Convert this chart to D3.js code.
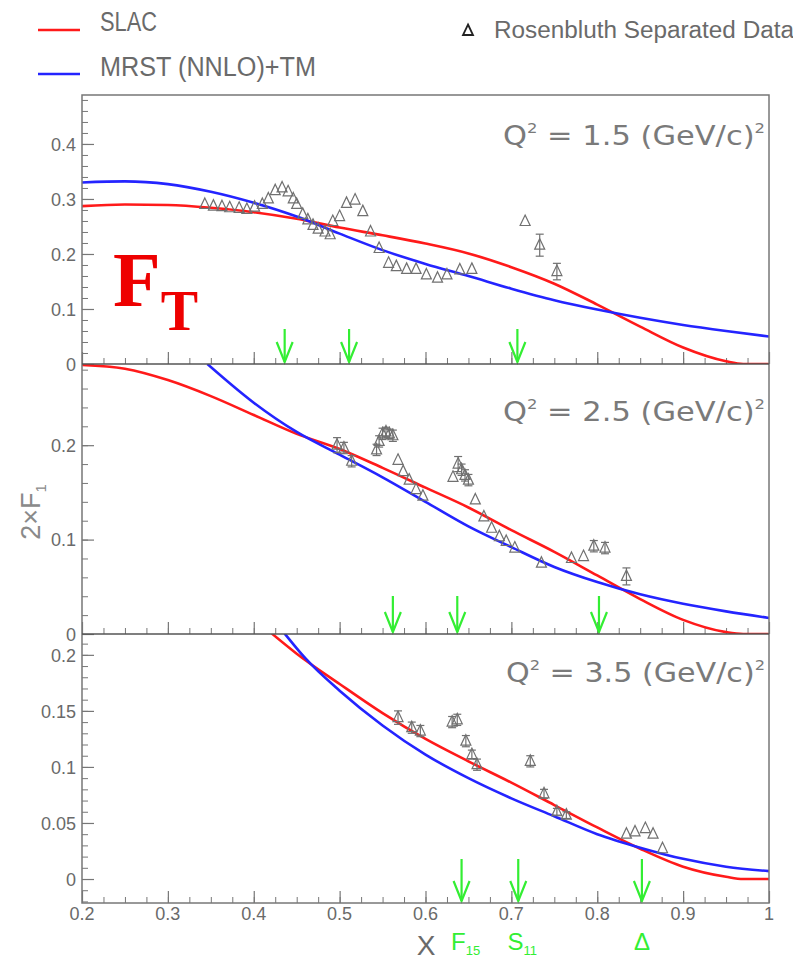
<!DOCTYPE html>
<html><head><meta charset="utf-8">
<script src="https://cdn.jsdelivr.net/npm/d3@7"></script>
<style>body{margin:0;background:#fff}svg{display:block}</style>
</head><body>
<svg id="chart" width="793" height="960"></svg>
<script>
// ---------- data ----------
const q2Values = ["1.5", "2.5", "3.5"];
const xTickValues = [0.2, 0.3, 0.4, 0.5, 0.6, 0.7, 0.8, 0.9, 1];
const xTickLabels = ["0.2", "0.3", "0.4", "0.5", "0.6", "0.7", "0.8", "0.9", "1"];

const yTicks1 = [0, 0.1, 0.2, 0.3, 0.4];
const yTicks2 = [0, 0.1, 0.2];
const yTicks3 = [0, 0.05, 0.1, 0.15, 0.2];

// SLAC fit
const slac1X = [0.20, 0.25, 0.30, 0.35, 0.40, 0.45, 0.50, 0.55, 0.60, 0.65, 0.70, 0.75, 0.80, 0.85, 0.90, 0.95, 0.97, 1.00];
const slac1Y = [0.287, 0.290, 0.289, 0.284, 0.276, 0.264, 0.248, 0.234, 0.219, 0.201, 0.176, 0.146, 0.108, 0.068, 0.030, 0.005, 0.0, 0.0];
const slac2X = [0.20, 0.25, 0.30, 0.35, 0.40, 0.45, 0.50, 0.55, 0.60, 0.65, 0.70, 0.75, 0.80, 0.85, 0.90, 0.95, 0.97, 1.00];
const slac2Y = [0.285, 0.281, 0.269, 0.252, 0.232, 0.212, 0.196, 0.176, 0.155, 0.134, 0.110, 0.087, 0.062, 0.037, 0.015, 0.002, 0.0, 0.0];
const slac3X = [0.421, 0.45, 0.50, 0.55, 0.60, 0.65, 0.70, 0.75, 0.80, 0.85, 0.90, 0.95, 0.97, 1.00];
const slac3Y = [0.219, 0.201, 0.174, 0.148, 0.125, 0.105, 0.086, 0.066, 0.046, 0.027, 0.011, 0.002, 0.0, 0.0];

// MRST (NNLO) + target mass corrections
const mrst1X = [0.20, 0.25, 0.30, 0.35, 0.40, 0.45, 0.50, 0.55, 0.60, 0.65, 0.70, 0.75, 0.80, 0.85, 0.90, 0.95, 1.00];
const mrst1Y = [0.330, 0.332, 0.327, 0.313, 0.293, 0.268, 0.237, 0.207, 0.182, 0.160, 0.137, 0.116, 0.099, 0.084, 0.071, 0.060, 0.050];
const mrst2X = [0.346, 0.40, 0.45, 0.50, 0.55, 0.60, 0.65, 0.70, 0.75, 0.80, 0.85, 0.90, 0.95, 1.00];
const mrst2Y = [0.286, 0.245, 0.214, 0.190, 0.166, 0.140, 0.114, 0.092, 0.071, 0.055, 0.042, 0.032, 0.024, 0.017];
const mrst3X = [0.436, 0.46, 0.50, 0.55, 0.60, 0.65, 0.70, 0.75, 0.80, 0.85, 0.90, 0.95, 1.00];
const mrst3Y = [0.219, 0.197, 0.168, 0.137, 0.111, 0.090, 0.072, 0.056, 0.040, 0.028, 0.018, 0.011, 0.007];

// Rosenbluth separated data: x, 2xF1, error
const data1X = [0.343, 0.353, 0.363, 0.372, 0.383, 0.392, 0.401, 0.410, 0.417, 0.425, 0.433, 0.440, 0.446, 0.450, 0.457, 0.463, 0.469, 0.475, 0.483, 0.489, 0.492, 0.500, 0.508, 0.518, 0.527, 0.536, 0.546, 0.557, 0.566, 0.578, 0.589, 0.601, 0.614, 0.625, 0.640, 0.654, 0.716, 0.733, 0.753];
const data1Y = [0.290, 0.287, 0.286, 0.284, 0.283, 0.281, 0.285, 0.290, 0.300, 0.315, 0.320, 0.313, 0.300, 0.290, 0.272, 0.262, 0.252, 0.245, 0.240, 0.235, 0.259, 0.268, 0.292, 0.298, 0.277, 0.240, 0.210, 0.183, 0.177, 0.172, 0.172, 0.162, 0.156, 0.162, 0.171, 0.172, 0.259, 0.216, 0.168];
const data1E = [0, 0, 0, 0, 0, 0, 0, 0, 0, 0, 0, 0, 0, 0, 0, 0, 0, 0, 0, 0, 0, 0, 0, 0, 0, 0, 0, 0, 0, 0, 0, 0, 0, 0, 0, 0, 0, 0.020, 0.015];

const data2X = [0.497, 0.505, 0.514, 0.543, 0.546, 0.550, 0.554, 0.558, 0.562, 0.568, 0.574, 0.581, 0.589, 0.597, 0.632, 0.638, 0.642, 0.646, 0.650, 0.658, 0.668, 0.677, 0.686, 0.694, 0.704, 0.735, 0.770, 0.784, 0.796, 0.809, 0.834];
const data2Y = [0.200, 0.197, 0.183, 0.195, 0.204, 0.212, 0.214, 0.212, 0.210, 0.184, 0.172, 0.163, 0.153, 0.146, 0.166, 0.180, 0.174, 0.168, 0.163, 0.142, 0.124, 0.112, 0.103, 0.098, 0.091, 0.075, 0.080, 0.082, 0.093, 0.091, 0.061];
const data2E = [0.008, 0.006, 0.006, 0.006, 0.006, 0.006, 0.005, 0.005, 0.006, 0, 0, 0, 0, 0, 0, 0.008, 0.006, 0.006, 0.006, 0, 0, 0, 0, 0, 0, 0, 0, 0, 0.006, 0.006, 0.009];

const data3X = [0.568, 0.584, 0.594, 0.631, 0.637, 0.647, 0.654, 0.660, 0.722, 0.738, 0.753, 0.764, 0.834, 0.844, 0.856, 0.865, 0.876];
const data3Y = [0.144, 0.135, 0.132, 0.140, 0.142, 0.123, 0.111, 0.102, 0.105, 0.076, 0.060, 0.057, 0.040, 0.042, 0.045, 0.040, 0.027];
const data3E = [0.006, 0.005, 0.005, 0.005, 0.005, 0.005, 0.004, 0.005, 0.005, 0.004, 0.003, 0.003, 0, 0, 0, 0, 0];

// resonance positions (F15, S11, Delta) at each Q^2
const res1X = [0.436, 0.511, 0.707];
const res2X = [0.562, 0.637, 0.802];
const res3X = [0.642, 0.708, 0.852];

// ---------- layout ----------
const svg = d3.select("#chart");
const X0 = 82, X1 = 769;
const RED = "#ff1a1a", BLUE = "#2424ff", GREEN = "#33ee33", GRAY = "#6a6a6a", AXIS = "#777";
const FONT = "'Liberation Sans', Arial, sans-serif";
const WIDE = "'DejaVu Sans', 'Liberation Sans', sans-serif";

const x = d3.scaleLinear().domain([0.2, 1]).range([X0, X1]);

const panels = [
  {top: 95, bottom: 364, domain: [0, 0.489], major: yTicks1, minorStep: 0.02, minorMin: 0, minorMax: 0.48,
   slacX: slac1X, slacY: slac1Y, mrstX: mrst1X, mrstY: mrst1Y, dX: data1X, dY: data1Y, dE: data1E, res: res1X, q2: q2Values[0], arrow: 33, titleY: 145, titleX: 503},
  {top: 364, bottom: 634, domain: [0, 0.286], major: yTicks2, minorStep: 0.02, minorMin: 0, minorMax: 0.28,
   slacX: slac2X, slacY: slac2Y, mrstX: mrst2X, mrstY: mrst2Y, dX: data2X, dY: data2Y, dE: data2E, res: res2X, q2: q2Values[1], arrow: 36, titleY: 421, titleX: 503},
  {top: 634, bottom: 903, domain: [-0.0214, 0.2186], major: yTicks3, minorStep: 0.01, minorMin: -0.02, minorMax: 0.21,
   slacX: slac3X, slacY: slac3Y, mrstX: mrst3X, mrstY: mrst3Y, dX: data3X, dY: data3Y, dE: data3E, res: res3X, q2: q2Values[2], arrow: 42, titleY: 682, titleX: 506}
];

panels.forEach((p, i) => {
  const y = d3.scaleLinear().domain(p.domain).range([p.bottom, p.top]);
  const g = svg.append("g");

  // clip region for the curves
  const cid = "clip" + i;
  svg.append("clipPath").attr("id", cid).append("rect")
    .attr("x", X0).attr("y", p.top).attr("width", X1 - X0).attr("height", p.bottom - p.top);

  // y axis ticks (pointing inward)
  const minor = d3.range(Math.round(p.minorMin / p.minorStep), Math.round(p.minorMax / p.minorStep) + 1).map(k => +(k * p.minorStep).toFixed(4));
  const yMinorG = g.append("g").attr("transform", `translate(${X0},0)`)
    .call(d3.axisRight(y).tickValues(minor).tickSize(6).tickFormat(""));
  yMinorG.select(".domain").remove();
  yMinorG.selectAll("line").attr("stroke", AXIS).attr("stroke-width", 1);

  const yMajorG = g.append("g").attr("transform", `translate(${X0},0)`)
    .call(d3.axisRight(y).tickValues(p.major).tickSize(12).tickFormat(d3.format("~g")));
  yMajorG.select(".domain").remove();
  yMajorG.selectAll("line").attr("stroke", AXIS).attr("stroke-width", 1.2);
  yMajorG.selectAll("text").attr("x", -6).attr("text-anchor", "end")
    .attr("fill", GRAY).attr("font-family", FONT).attr("font-size", 18).attr("dy", "0.35em");

  // x ticks along the panel bottom (pointing up)
  const xMinor = d3.range(8, 41).map(k => k * 0.025).filter(v => v > 0.2 && v < 1);
  const xMinorG = g.append("g").attr("transform", `translate(0,${p.bottom})`)
    .call(d3.axisTop(x).tickValues(xMinor).tickSize(6).tickFormat(""));
  xMinorG.select(".domain").remove();
  xMinorG.selectAll("line").attr("stroke", AXIS).attr("stroke-width", 1);
  const xMajorG = g.append("g").attr("transform", `translate(0,${p.bottom})`)
    .call(d3.axisTop(x).tickValues(xTickValues).tickSize(12).tickFormat(""));
  xMajorG.select(".domain").remove();
  xMajorG.selectAll("line").attr("stroke", AXIS).attr("stroke-width", 1.2);

  // curves
  const line = d3.line().x(d => x(d[0])).y(d => y(d[1])).curve(d3.curveMonotoneX);
  const cg = g.append("g").attr("clip-path", `url(#${cid})`);
  cg.append("path").datum(p.slacX.map((v, k) => [v, p.slacY[k]]))
    .attr("d", line).attr("fill", "none").attr("stroke", RED).attr("stroke-width", 2.6);
  cg.append("path").datum(p.mrstX.map((v, k) => [v, p.mrstY[k]]))
    .attr("d", line).attr("fill", "none").attr("stroke", BLUE).attr("stroke-width", 2.6);

  // data points with error bars
  const pts = p.dX.map((v, k) => ({x: v, y: p.dY[k], e: p.dE[k]}));
  const dg = g.append("g").attr("stroke", "#707070").attr("fill", "none").attr("stroke-width", 1.2);
  pts.filter(d => d.e > 0).forEach(d => {
    const cx = x(d.x), y0 = y(d.y - d.e), y1 = y(d.y + d.e);
    dg.append("line").attr("x1", cx).attr("x2", cx).attr("y1", y0).attr("y2", y1);
    dg.append("line").attr("x1", cx - 4).attr("x2", cx + 4).attr("y1", y0).attr("y2", y0);
    dg.append("line").attr("x1", cx - 4).attr("x2", cx + 4).attr("y1", y1).attr("y2", y1);
  });
  dg.selectAll("path.tri").data(pts).join("path").attr("class", "tri")
    .attr("d", "M0,-6.5L5,4L-5,4Z")
    .attr("transform", d => `translate(${x(d.x)},${y(d.y)})`);

  // resonance arrows
  const ag = g.append("g").attr("stroke", GREEN).attr("stroke-width", 2.2).attr("fill", "none");
  p.res.forEach(r => {
    const ax = x(r), yb = p.bottom - 2, yt = yb - p.arrow;
    ag.append("line").attr("x1", ax).attr("x2", ax).attr("y1", yt).attr("y2", yb);
    ag.append("path").attr("d", `M${ax - 8},${yb - 20}L${ax},${yb}L${ax + 8},${yb - 20}`);
  });

  // Q^2 title
  const t = g.append("text").attr("x", p.titleX).attr("y", p.titleY)
    .attr("fill", "#7a7a7a").attr("font-family", WIDE).attr("font-size", 26)
    .attr("textLength", 765 - p.titleX).attr("lengthAdjust", "spacingAndGlyphs");
  t.append("tspan").text("Q");
  t.append("tspan").text("2").attr("font-size", 14).attr("dy", -12);
  t.append("tspan").text(` = ${p.q2} (GeV/c)`).attr("dy", 12);
  t.append("tspan").text("2").attr("font-size", 14).attr("dy", -12);
});

// frame
svg.append("rect").attr("x", X0).attr("y", 95).attr("width", X1 - X0).attr("height", 903 - 95)
  .attr("fill", "none").attr("stroke", AXIS).attr("stroke-width", 1.5);
[364, 634].forEach(yy => svg.append("line").attr("x1", X0).attr("x2", X1).attr("y1", yy).attr("y2", yy)
  .attr("stroke", "#555").attr("stroke-width", 1.5));

// x tick labels
svg.append("g").selectAll("text").data(xTickValues).join("text")
  .attr("x", d => x(d)).attr("y", 920).attr("text-anchor", "middle")
  .attr("fill", GRAY).attr("font-family", FONT).attr("font-size", 18)
  .text((d, i) => xTickLabels[i]);

// axis titles
svg.append("text").attr("x", 426).attr("y", 955).attr("text-anchor", "middle")
  .attr("fill", GRAY).attr("font-family", FONT).attr("font-size", 28).text("X");

const yt = svg.append("text").attr("transform", "translate(40,512) rotate(-90)").attr("text-anchor", "middle")
  .attr("fill", "#8a8a8a").attr("font-family", FONT).attr("font-size", 27);
yt.append("tspan").text("2\u00d7F");
yt.append("tspan").text("1").attr("font-size", 15).attr("dy", 6);

// resonance names under the arrows
const resNames = [["F", "15"], ["S", "11"], ["\u0394", ""]];
res3X.forEach((r, i) => {
  const tt = svg.append("text").attr("x", x(r) + (resNames[i][1] ? 4 : 0)).attr("y", 950).attr("text-anchor", "middle")
    .attr("fill", GREEN).attr("font-family", FONT).attr("font-size", 24);
  tt.append("tspan").text(resNames[i][0]);
  if (resNames[i][1]) tt.append("tspan").text(resNames[i][1]).attr("font-size", 13).attr("dy", 5);
});

// big F_T label
const ft = svg.append("text").attr("x", 113).attr("y", 306).attr("fill", "#ee0000")
  .attr("font-family", "'Liberation Serif', 'Times New Roman', serif").attr("font-weight", "bold").attr("font-size", 78);
ft.append("tspan").text("F");
ft.append("tspan").text("T").attr("font-size", 56).attr("dy", 24);

// legends
const leg = [["SLAC", RED, 30, 31], ["MRST (NNLO)+TM", BLUE, 74, 76]];
leg.forEach(([label, col, ly, ty], i) => {
  svg.append("line").attr("x1", 38).attr("x2", 80).attr("y1", ly).attr("y2", ly).attr("stroke", col).attr("stroke-width", 2.4);
  svg.append("text").attr("x", 100).attr("y", ty).attr("fill", GRAY).attr("font-family", FONT).attr("font-size", 27)
    .attr("textLength", i === 0 ? 57 : 216).attr("lengthAdjust", "spacingAndGlyphs").text(label);
});
svg.append("path").attr("d", "M0,-6.5L5,4L-5,4Z").attr("transform", "translate(468,31)")
  .attr("fill", "none").attr("stroke", "#222").attr("stroke-width", 1.8);
svg.append("text").attr("x", 494).attr("y", 38).attr("fill", GRAY).attr("font-family", FONT).attr("font-size", 23)
  .attr("textLength", 300).attr("lengthAdjust", "spacingAndGlyphs").text("Rosenbluth Separated Data");
</script>
</body></html>
